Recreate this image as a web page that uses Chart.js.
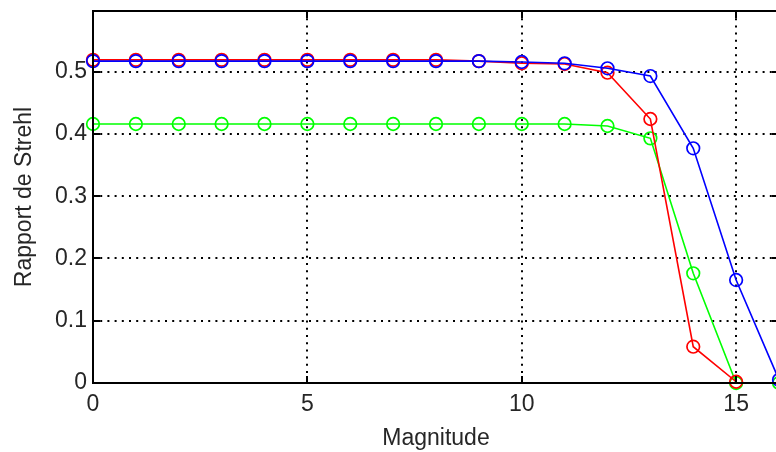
<!DOCTYPE html>
<html>
<head>
<meta charset="utf-8">
<script src="https://cdn.jsdelivr.net/npm/chart.js@4/dist/chart.umd.min.js"></script>
<style>
  html, body { margin: 0; padding: 0; background: #fff; overflow: hidden; }
  #wrap { width: 776px; height: 452px; overflow: hidden; }
  canvas { display: block; }
</style>
</head>
<body>
<div id="wrap"><canvas id="c" width="787" height="452"></canvas></div>
<script>
// ---- data ----
const magnitudes = [0, 1, 2, 3, 4, 5, 6, 7, 8, 9, 10, 11, 12, 13, 14, 15, 16];
const blueValues  = [0.517, 0.517, 0.517, 0.517, 0.517, 0.517, 0.517, 0.517, 0.517, 0.517, 0.5156, 0.5135, 0.5055, 0.493, 0.377, 0.1654, 0.005];
const redValues   = [0.519, 0.519, 0.519, 0.519, 0.519, 0.519, 0.519, 0.519, 0.519, 0.517, 0.5135, 0.5124, 0.4984, 0.424, 0.0583, 0.002, null];
const greenValues = [0.416, 0.416, 0.416, 0.416, 0.416, 0.416, 0.416, 0.416, 0.416, 0.416, 0.416, 0.416, 0.4128, 0.393, 0.1762, 0.0, 0.0];
const xTickValues = [0, 5, 10, 15];
const yTickValues = [0, 0.1, 0.2, 0.3, 0.4, 0.5];
const xTitle = 'Magnitude';
const yTitle = 'Rapport de Strehl';

const toPoints = (vals) => magnitudes.map((x, i) => ({ x: x, y: vals[i] }));

const FONT = "'Liberation Sans', Arial, sans-serif";
const TEXT = '#262626';

function series(label, color, vals) {
  return {
    label: label,
    data: toPoints(vals),
    borderColor: color,
    backgroundColor: 'rgba(0,0,0,0)',
    borderWidth: 1.6,
    pointRadius: 6.3,
    pointHoverRadius: 6.3,
    pointBorderWidth: 1.7,
    pointBorderColor: color,
    pointBackgroundColor: 'rgba(0,0,0,0)',
    tension: 0,
    spanGaps: false,
    clip: false
  };
}

// Box + inward tick marks like MATLAB axes
const boxPlugin = {
  id: 'matlabBox',
  afterDatasetsDraw(chart) {
    const { ctx, chartArea: a, scales } = chart;
    ctx.save();
    ctx.strokeStyle = '#000';
    ctx.lineWidth = 2;
    ctx.setLineDash([]);
    ctx.strokeRect(a.left, a.top, a.right - a.left, a.bottom - a.top);
    const tl = 7;
    ctx.beginPath();
    xTickValues.forEach(v => {
      const px = Math.round(scales.x.getPixelForValue(v));
      ctx.moveTo(px, a.bottom); ctx.lineTo(px, a.bottom - tl);
      ctx.moveTo(px, a.top); ctx.lineTo(px, a.top + tl);
    });
    yTickValues.forEach(v => {
      const py = Math.round(scales.y.getPixelForValue(v));
      ctx.moveTo(a.left, py); ctx.lineTo(a.left + tl, py);
      ctx.moveTo(a.right, py); ctx.lineTo(a.right - tl, py);
    });
    ctx.stroke();
    ctx.restore();
  }
};

new Chart(document.getElementById('c'), {
  type: 'line',
  data: {
    datasets: [
      series('blue', '#0000ff', blueValues),
      series('red', '#ff0000', redValues),
      series('green', '#00ff00', greenValues)
    ]
  },
  options: {
    responsive: false,
    devicePixelRatio: 1,
    animation: false,
    events: [],
    layout: { padding: { top: 11, right: 4, left: 0, bottom: 0 } },
    plugins: { legend: { display: false }, tooltip: { enabled: false }, title: { display: false } },
    scales: {
      x: {
        type: 'linear',
        min: 0,
        max: 16,
        afterBuildTicks: (s) => { s.ticks = xTickValues.map(v => ({ value: v })); },
        afterFit: (s) => { s.height = 69; s.paddingLeft = 0; s.paddingRight = 0; },
        ticks: {
          autoSkip: false,
          maxRotation: 0,
          padding: 8,
          color: TEXT,
          font: { family: FONT, size: 23 },
          callback: (v) => String(v)
        },
        grid: {
          drawTicks: false,
          lineWidth: 2,
          color: (c) => (c.tick && c.tick.value === 0) ? 'rgba(0,0,0,0)' : '#000'
        },
        border: { display: false, dash: [2, 5.2] },
        title: {
          display: true,
          text: xTitle,
          color: TEXT,
          font: { family: FONT, size: 23 },
          padding: { top: 0, bottom: 0 }
        }
      },
      y: {
        type: 'linear',
        min: 0,
        max: 0.5975,
        afterBuildTicks: (s) => { s.ticks = yTickValues.map(v => ({ value: v })); },
        afterFit: (s) => { s.width = 93; s.paddingTop = 0; s.paddingBottom = 0; },
        ticks: {
          autoSkip: false,
          padding: 6,
          color: TEXT,
          font: { family: FONT, size: 23 },
          callback: (v) => String(v)
        },
        grid: {
          drawTicks: false,
          lineWidth: 2,
          color: (c) => (c.tick && c.tick.value === 0) ? 'rgba(0,0,0,0)' : '#000'
        },
        border: { display: false, dash: [2, 5.2] },
        title: {
          display: true,
          text: yTitle,
          color: TEXT,
          font: { family: FONT, size: 23 },
          padding: { top: 11, bottom: 0 }
        }
      }
    }
  },
  plugins: [boxPlugin]
});
</script>
</body>
</html>
